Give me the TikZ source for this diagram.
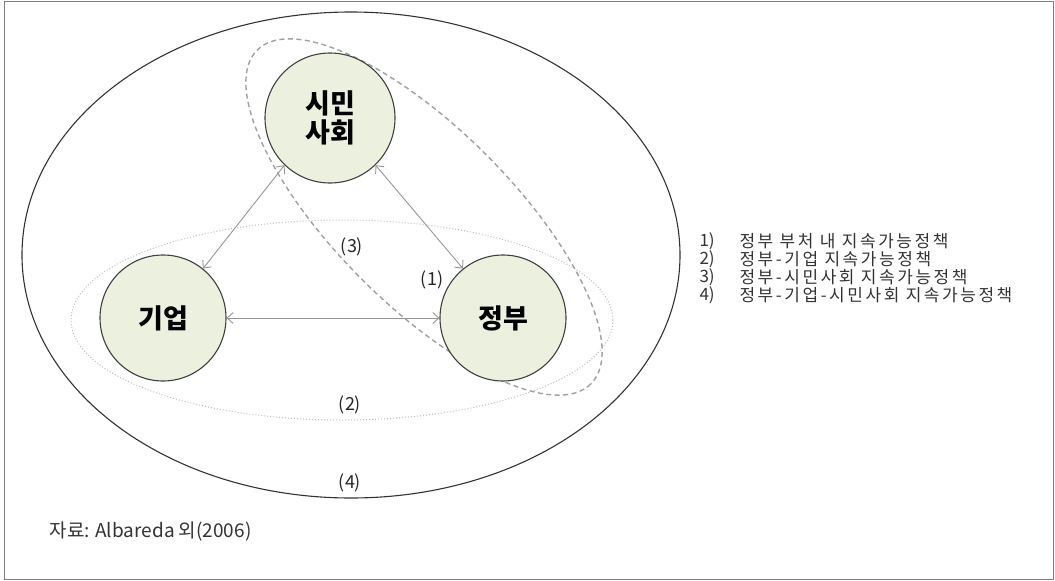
\documentclass[tikz,border=0pt]{standalone}
\usepackage{fontspec}
\setmainfont{Noto Sans CJK KR}
\newfontfamily\legfont[LetterSpace=15]{Noto Sans CJK KR}
\usetikzlibrary{arrows.meta}
\definecolor{circfill}{RGB}{236,241,223}
\definecolor{linkgray}{RGB}{150,150,150}
\definecolor{dashgray}{RGB}{160,160,160}
\definecolor{dotgray}{RGB}{190,190,190}
\begin{document}
\begin{tikzpicture}[x=1pt,y=-1pt,
  actor/.style={circle, draw=black!75, line width=1.1pt, fill=circfill, minimum size=130pt, inner sep=0pt, font=\bfseries\fontsize{27}{32}\selectfont, align=center},
  link/.style={draw=linkgray, line width=0.9pt, {Straight Barb[length=6pt,width=11pt]}-{Straight Barb[length=6pt,width=11pt]}},
  lbl/.style={font=\fontsize{18}{20}\selectfont, text=black!85},
  num/.style={font=\fontsize{17}{20}\selectfont, anchor=west, text=black!80},
  leg/.style={font=\legfont\fontsize{17}{20}\selectfont, anchor=west, text=black!80}
]
\useasboundingbox (0,0) rectangle (1055,581);
\draw[gray, line width=1pt] (4.5,1.5) rectangle (1053.5,579.5);
\draw[black!80, line width=1.1pt] (351,255) ellipse [x radius=329, y radius=243];
\draw[dotgray, dotted, line width=1pt] (342,320) ellipse [x radius=271, y radius=100];
\draw[dashgray, line width=1.4pt, dash pattern=on 5pt off 3.5pt] (424,217) ellipse [x radius=236, y radius=88, rotate=-45];
\node[actor] (sm) at (330,118) {시민\\[-3pt]사회};
\node[actor, minimum size=126pt] (gi) at (163,318) {기업};
\node[actor, minimum size=126pt] (jb) at (503,318) {정부};
\draw[link] (sm.226) -- (gi.51);
\draw[link] (sm.314) -- (jb.129);
\draw[link] (gi.east) -- (jb.west);
\node[lbl] (l3) at (352,247) {(3)};
\node[lbl] (l1) at (432,280) {(1)};
\node[lbl] (l2) at (350,405) {(2)};
\node[lbl] (l4) at (350,483) {(4)};
\node[num] (n1) at (696,241) {1)};
\node[num] (n2) at (696,259) {2)};
\node[num] (n3) at (696,277) {3)};
\node[num] (n4) at (696,295) {4)};
\node[leg] (t1) at (736,241) {정부 부처 내 지속가능정책};
\node[leg] (t2) at (736,259) {정부-기업 지속가능정책};
\node[leg] (t3) at (736,277) {정부-시민사회 지속가능정책};
\node[leg] (t4) at (736,295) {정부-기업-시민사회 지속가능정책};
\node[num, font=\fontsize{19}{20}\selectfont] (src) at (46,531) {자료: Albareda 외(2006)};
\end{tikzpicture}
\end{document}
